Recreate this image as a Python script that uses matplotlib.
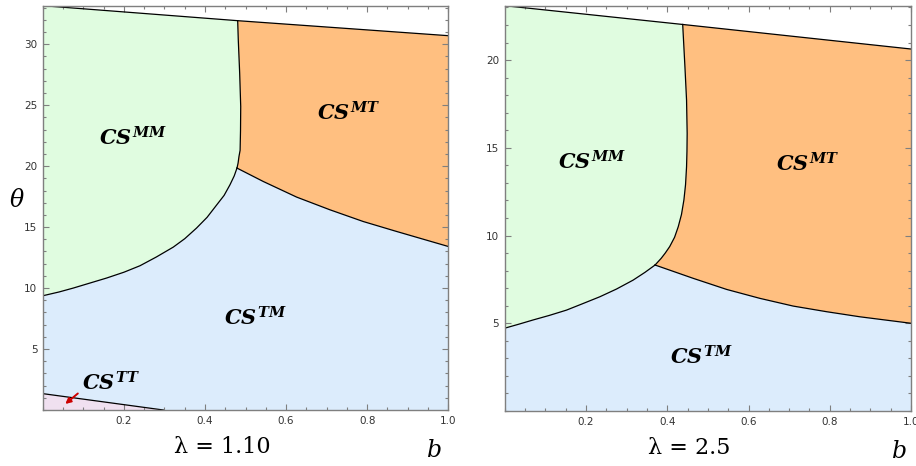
import numpy as np
import matplotlib.pyplot as plt
from matplotlib.ticker import MultipleLocator, FixedLocator

plt.rcParams['mathtext.fontset'] = 'custom'
plt.rcParams['mathtext.it'] = 'DejaVu Serif:italic:bold'
plt.rcParams['mathtext.rm'] = 'DejaVu Serif:bold'

# ---- panel 1 : lambda = 1.10 ----
top1_b = [0.0, 0.4805, 1.0]
top1_t = [33.16, 31.93, 30.7]
mmmt1_b = [0.4805, 0.482, 0.4854, 0.488, 0.4875, 0.4865, 0.4837, 0.4815, 0.4788]
mmmt1_t = [31.93, 30.35, 27.65, 24.89, 22.9, 21.3, 20.79, 20.25, 19.84]
mmtm1_b = [0.0, 0.04, 0.075, 0.157, 0.2, 0.2395, 0.28, 0.3217, 0.35, 0.379, 0.405,
           0.429, 0.447, 0.4615, 0.472, 0.4788]
mmtm1_t = [9.37, 9.68, 10.0, 10.82, 11.3, 11.83, 12.55, 13.36, 14.05, 14.92, 15.8,
           16.83, 17.6, 18.47, 19.2, 19.84]
mttm1_b = [0.4788, 0.5437, 0.626, 0.708, 0.790, 0.8727, 1.0]
mttm1_t = [19.84, 18.74, 17.46, 16.42, 15.46, 14.64, 13.41]
tt1_b = [0.0, 0.297]
tt1_t = [1.34, 0.0]

# ---- panel 2 : lambda = 2.5 ----
top2_b = [0.0, 0.438, 1.0]
top2_t = [23.1, 22.03, 20.63]
mmmt2_b = [0.438, 0.4435, 0.4475, 0.449, 0.4485, 0.4475, 0.445, 0.441, 0.435, 0.427,
           0.418, 0.406, 0.395, 0.385, 0.37]
mmmt2_t = [22.03, 19.62, 17.72, 15.82, 14.8, 13.92, 12.9, 12.03, 11.2, 10.5,
           9.9, 9.37, 9.0, 8.7, 8.32]
mmtm2_b = [0.0, 0.035, 0.07, 0.11, 0.152, 0.19, 0.234, 0.275, 0.316, 0.345, 0.37]
mmtm2_t = [4.72, 4.95, 5.19, 5.45, 5.75, 6.1, 6.51, 6.95, 7.46, 7.9, 8.32]
mttm2_b = [0.37, 0.464, 0.546, 0.628, 0.71, 0.792, 0.874, 1.0]
mttm2_t = [8.32, 7.56, 6.93, 6.42, 5.98, 5.66, 5.37, 5.0]

green = '#e0fce0'
orange = '#ffbf80'
blue = '#dcecfc'
pink = '#f0e0f0'
gray = '#7f7f7f'


def rev(a):
    return list(a)[::-1]


def draw(ax, top_b, top_t, mmmt_b, mmmt_t, mmtm_b, mmtm_t, mttm_b, mttm_t, ymax, tt_b=None, tt_t=None):
    # MM region
    xb = [top_b[0], top_b[1]] + mmmt_b[1:] + rev(mmtm_b)[1:]
    yb = [top_t[0], top_t[1]] + mmmt_t[1:] + rev(mmtm_t)[1:]
    ax.fill(xb, yb, color=green, lw=0)
    # MT region
    xb = [top_b[1], top_b[2]] + rev(mttm_b)[:-1] + rev(mmmt_b)
    yb = [top_t[1], top_t[2]] + rev(mttm_t)[:-1] + rev(mmmt_t)
    ax.fill(xb, yb, color=orange, lw=0)
    # TM region (and TT when present)
    if tt_b is not None:
        xb = mmtm_b + mttm_b[1:] + [1.0, tt_b[1]] + [tt_b[0]]
        yb = mmtm_t + mttm_t[1:] + [0.0, tt_t[1]] + [tt_t[0]]
        ax.fill(xb, yb, color=blue, lw=0)
        ax.fill(tt_b + [0.0], tt_t + [0.0], color=pink, lw=0)
        ax.plot(tt_b, tt_t, color='black', lw=0.9)
    else:
        xb = mmtm_b + mttm_b[1:] + [1.0, 0.0]
        yb = mmtm_t + mttm_t[1:] + [0.0, 0.0]
        ax.fill(xb, yb, color=blue, lw=0)
    for bx, by in [(top_b, top_t), (mmmt_b, mmmt_t), (mmtm_b, mmtm_t), (mttm_b, mttm_t)]:
        ax.plot(bx, by, color='black', lw=0.9, solid_joinstyle='round')

    ax.set_xlim(0, 1)
    ax.set_ylim(0, ymax)
    ax.xaxis.set_major_locator(FixedLocator([0.2, 0.4, 0.6, 0.8, 1.0]))
    ax.xaxis.set_minor_locator(MultipleLocator(0.05))
    ax.yaxis.set_major_locator(FixedLocator(list(range(5, int(ymax) + 1, 5))))
    ax.yaxis.set_minor_locator(MultipleLocator(1))
    ax.tick_params(which='both', direction='in', top=True, right=True,
                   color=gray, labelcolor='#333333', labelsize=7.5, width=0.8)
    ax.tick_params(which='major', length=4.5, pad=4)
    ax.tick_params(which='minor', length=2.5)
    for s in ax.spines.values():
        s.set_color(gray)
        s.set_linewidth(1.0)


fig = plt.figure(figsize=(9.16, 4.66), dpi=100)
ax1 = fig.add_axes([0.0468, 0.1202, 0.4426, 0.8676])
ax2 = fig.add_axes([0.551, 0.1180, 0.4436, 0.8698])

draw(ax1, top1_b, top1_t, mmmt1_b, mmmt1_t, mmtm1_b, mmtm1_t, mttm1_b, mttm1_t, 33.16, tt1_b, tt1_t)
draw(ax2, top2_b, top2_t, mmmt2_b, mmmt2_t, mmtm2_b, mmtm2_t, mttm2_b, mttm2_t, 23.1)

lab = dict(fontsize=15, ha='center', va='center', color='black')
ax1.text(0.2215, 22.3, r'$CS^{MM}$', **lab)
ax1.text(0.753, 24.34, r'$CS^{MT}$', **lab)
ax1.text(0.523, 7.57, r'$CS^{TM}$', **lab)
ax1.text(0.168, 2.25, r'$CS^{TT}$', **lab)
ax1.annotate('', xy=(0.050, 0.35), xytext=(0.0915, 1.5),
             arrowprops=dict(arrowstyle='-|>', color='#cc0000', lw=1.4, mutation_scale=8))

ax2.text(0.214, 14.2, r'$CS^{MM}$', **lab)
ax2.text(0.745, 14.1, r'$CS^{MT}$', **lab)
ax2.text(0.483, 3.09, r'$CS^{TM}$', **lab)

ax1.text(0.443, -0.091, '\u03bb = 1.10', transform=ax1.transAxes, fontsize=16,
         family='DejaVu Serif', ha='center', va='center')
ax2.text(0.454, -0.091, '\u03bb = 2.5', transform=ax2.transAxes, fontsize=16,
         family='DejaVu Serif', ha='center', va='center')
ax1.text(0.967, -0.099, 'b', transform=ax1.transAxes, fontsize=17,
         family='DejaVu Serif', style='italic', ha='center', va='center')
ax2.text(0.971, -0.099, 'b', transform=ax2.transAxes, fontsize=17,
         family='DejaVu Serif', style='italic', ha='center', va='center')
ax1.text(-0.065, 0.519, '\u03b8', transform=ax1.transAxes, fontsize=17,
         family='DejaVu Serif', style='italic', ha='center', va='center')

plt.savefig('out.png', dpi=100)
